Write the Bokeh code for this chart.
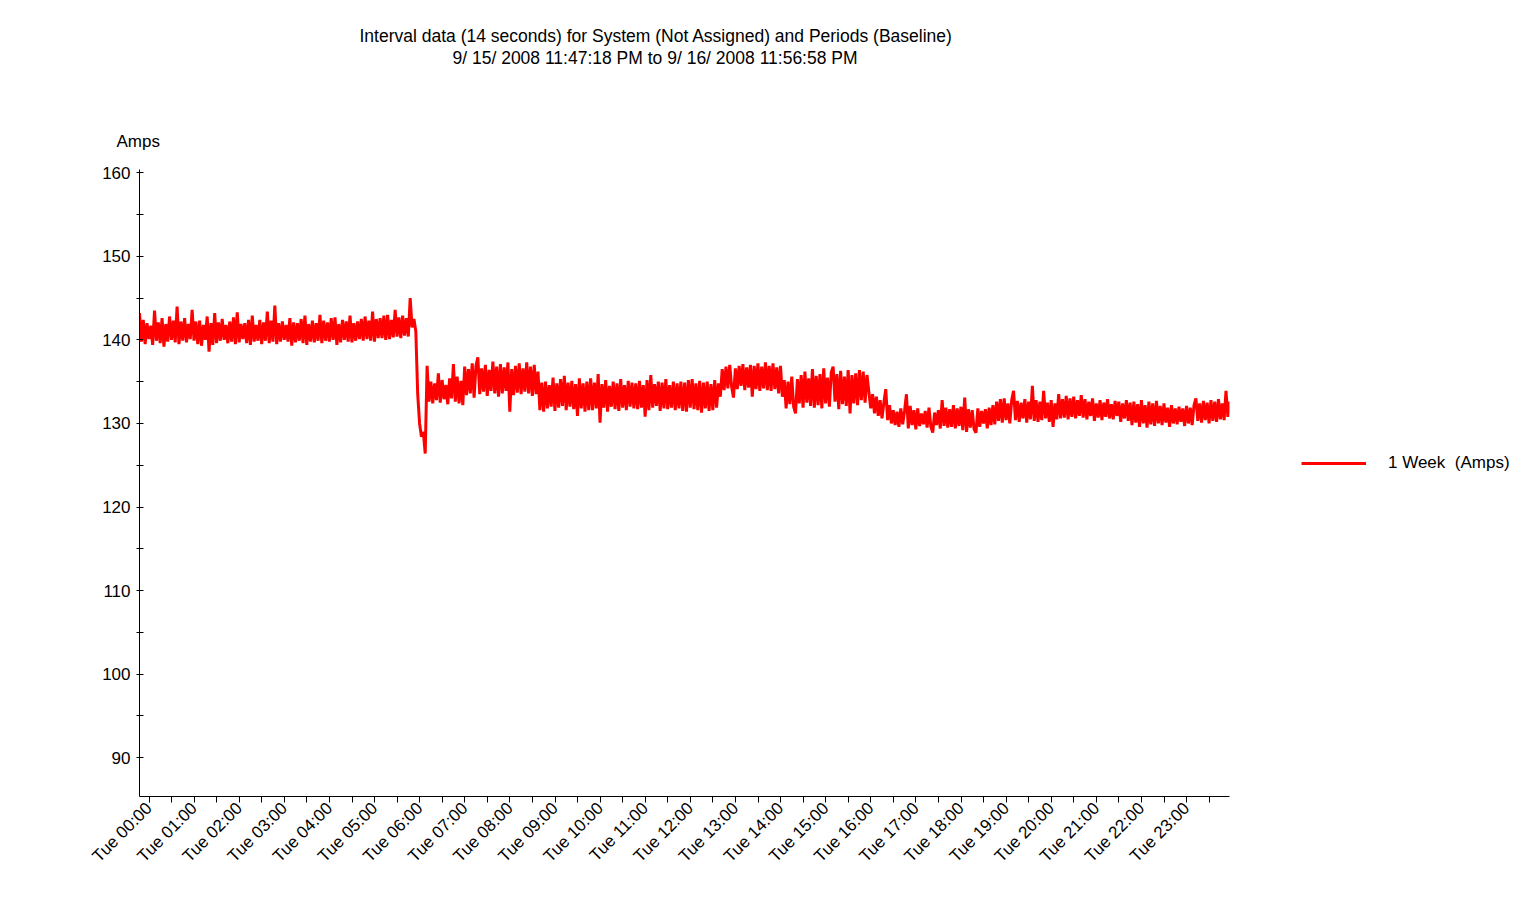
import math
import pandas as pd
from bokeh.plotting import figure
from bokeh.models import (ColumnDataSource, FixedTicker, DatetimeTickFormatter, Range1d,
                          Title, Legend, LegendItem, LinearAxis)
from bokeh.embed import file_html
from bokeh.resources import INLINE

# ---------------- data ----------------
title_line1 = "Interval data (14 seconds) for System (Not Assigned) and Periods (Baseline)"
title_line2 = "9/ 15/ 2008 11:47:18 PM to 9/ 16/ 2008 11:56:58 PM"
y_label = "Amps"
series_name = "1 Week  (Amps)"

range_start = "2008-09-15 23:47:18"
range_end = "2008-09-16 23:56:58"
sample_step = "150s"   # values every 2.5 minutes

amps = [
    # 23:47 -
    143.2, 139.8, 142.4, 139.5, 142.0, 140.1, 141.7, 139.4, 143.5, 139.9, 142.1, 139.6,
    142.6, 139.2, 141.9, 139.8, 142.8, 140.0, 142.3, 139.7, 144.0, 139.5, 142.2, 139.9,
    # 00:47 -
    142.6, 139.7, 141.9, 140.1, 143.6, 139.9, 142.2, 139.5, 142.3, 139.3, 141.8, 140.0,
    142.8, 138.6, 142.0, 139.4, 143.2, 139.6, 142.1, 139.9, 142.5, 140.0, 141.8, 139.6,
    # 01:47 -
    142.2, 139.8, 142.7, 139.5, 143.3, 139.7, 141.9, 140.1, 142.0, 139.6, 142.4, 139.4,
    142.9, 139.8, 141.8, 139.9, 142.4, 139.5, 142.1, 139.9, 143.4, 139.6, 142.3, 139.8,
    # 02:47 -
    144.1, 139.5, 142.0, 139.8, 142.2, 140.0, 141.8, 139.8, 142.6, 139.3, 142.1, 139.7,
    142.0, 139.9, 142.5, 139.6, 142.9, 139.4, 141.9, 139.8, 142.3, 139.7, 142.0, 139.9,
    # 03:47 -
    143.0, 139.6, 142.3, 139.9, 142.1, 139.8, 142.6, 140.0, 142.7, 139.4, 141.9, 139.7,
    142.4, 140.0, 142.2, 139.8, 142.9, 139.7, 142.0, 139.9, 142.2, 140.1, 142.5, 139.9,
    # 04:47 -
    142.8, 140.1, 142.3, 139.9, 143.4, 139.8, 142.5, 140.2, 142.6, 140.2, 142.9, 140.0,
    143.0, 140.1, 142.4, 140.3, 143.6, 140.4, 142.7, 140.2, 142.9, 140.5, 142.6, 140.4,
    # 05:47 -
    145.0, 141.5, 142.5, 141.0, 133.5, 130.0, 128.4, 129.0, 126.4, 136.9, 132.6, 135.0,
    132.4, 134.8, 132.8, 136.0, 132.5, 135.2, 132.9, 134.6, 132.3, 135.4, 133.0, 137.1,
    # 06:47 -
    132.6, 135.6, 132.4, 135.1, 132.2, 136.8, 133.4, 136.5, 133.6, 137.2, 133.1, 136.9,
    137.9, 133.5, 136.6, 133.8, 137.0, 133.3, 136.4, 133.9, 137.4, 133.6, 136.8, 133.2,
    # 07:47 -
    137.1, 133.6, 136.7, 133.9, 137.3, 131.4, 136.5, 133.4, 136.9, 133.7, 137.2, 133.5,
    136.6, 133.8, 137.3, 133.6, 136.8, 133.3, 137.0, 133.5, 136.2, 131.6, 134.9, 131.4,
    # 08:47 -
    135.0, 131.8, 134.6, 132.0, 135.5, 131.5, 134.8, 131.9, 135.3, 132.1, 135.7, 131.6,
    134.9, 132.0, 135.1, 131.7, 134.7, 130.9, 135.4, 131.8, 134.8, 131.4, 135.0, 131.6,
    # 09:47 -
    135.4, 131.6, 134.9, 131.8, 135.9, 130.1, 134.7, 131.9, 135.2, 131.4, 134.5, 132.0,
    135.0, 131.7, 134.8, 131.5, 135.3, 131.9, 134.6, 131.6, 135.1, 132.0, 134.9, 131.8,
    # 10:47 -
    134.8, 131.7, 135.1, 131.9, 134.6, 130.8, 135.2, 131.6, 135.8, 131.9, 134.7, 132.1,
    135.0, 131.5, 134.9, 131.8, 135.3, 131.7, 134.6, 131.9, 135.0, 131.6, 134.8, 131.8,
    # 11:47 -
    135.0, 131.5, 134.9, 131.4, 135.2, 131.9, 135.3, 131.7, 134.8, 131.6, 135.1, 131.3,
    134.9, 131.8, 135.0, 131.5, 134.7, 131.6, 135.2, 131.9, 134.8, 133.2, 136.5, 134.0,
    # 12:47 -
    136.8, 134.2, 137.0, 134.4, 133.1, 136.6, 134.1, 136.9, 134.5, 137.1, 134.0, 136.7,
    134.3, 137.0, 133.2, 136.9, 134.1, 137.2, 133.9, 136.8, 134.2, 137.3, 134.0, 136.9,
    # 13:47 -
    133.9, 137.2, 134.1, 136.7, 133.6, 136.9, 133.2, 135.2, 131.8, 135.0, 132.3, 135.6,
    132.0, 131.2, 135.3, 132.4, 135.8, 131.9, 136.2, 132.5, 135.4, 132.1, 136.5, 131.9,
    # 14:47 -
    135.7, 132.2, 135.9, 131.8, 136.6, 132.4, 135.5, 132.0, 136.1, 136.8, 132.6, 135.9,
    131.7, 136.3, 132.3, 135.6, 132.1, 136.4, 131.2, 135.8, 132.4, 136.0, 132.2, 136.4,
    # 15:47 -
    132.8, 136.2, 132.5, 135.8, 133.8, 131.8, 133.5, 131.2, 133.2, 130.9, 132.8, 130.6,
    132.5, 134.1, 130.4, 132.2, 130.0, 131.6, 129.8, 131.4, 129.6, 131.8, 129.9, 131.5,
    # 16:47 -
    133.5, 129.4, 132.1, 129.8, 131.6, 129.3, 131.8, 129.7, 131.2, 129.9, 131.5, 129.5,
    131.9, 129.6, 128.9, 131.3, 129.8, 131.6, 129.4, 132.8, 129.7, 131.9, 129.5, 131.7,
    # 17:47 -
    129.6, 132.2, 129.4, 131.8, 129.7, 132.0, 129.2, 133.1, 129.0, 131.7, 129.5, 131.6,
    129.3, 128.9, 131.8, 129.6, 131.5, 130.0, 131.7, 129.4, 131.9, 129.8, 132.2, 129.9,
    # 18:47 -
    132.6, 130.3, 132.9, 130.1, 133.0, 130.4, 132.4, 130.0, 132.8, 133.9, 130.4, 132.7,
    130.2, 132.5, 130.6, 132.9, 130.1, 132.6, 130.5, 134.5, 130.3, 132.8, 130.2, 132.6,
    # 19:47 -
    130.4, 133.9, 130.6, 132.5, 130.2, 132.8, 129.6, 132.4, 130.5, 133.5, 130.6, 132.9,
    130.7, 133.3, 130.5, 133.0, 130.8, 133.2, 130.6, 132.8, 130.9, 133.4, 130.7, 132.9,
    # 20:47 -
    130.5, 132.6, 130.9, 133.0, 130.3, 132.4, 130.7, 132.8, 130.4, 132.5, 130.8, 132.9,
    130.6, 132.3, 130.5, 132.7, 130.9, 132.6, 130.2, 132.4, 130.6, 132.8, 130.3, 132.5,
    # 21:47 -
    129.8, 132.6, 130.1, 132.3, 129.6, 132.8, 130.0, 132.2, 129.5, 132.6, 129.9, 132.4,
    129.7, 132.7, 130.0, 132.1, 129.8, 132.4, 130.1, 131.9, 129.6, 132.2, 130.0, 131.8,
    # 22:47 -
    129.9, 132.0, 130.2, 131.8, 129.7, 132.1, 130.0, 131.9, 129.8, 132.2, 133.0, 130.3,
    132.4, 130.1, 132.7, 130.4, 132.5, 130.0, 132.8, 130.3, 132.6, 130.2, 132.9, 130.5,
    # 23:47 -
    132.4, 130.4, 133.9, 130.8, 132.6,
]

y_major_ticks = [90, 100, 110, 120, 130, 140, 150, 160]
y_minor_ticks = [95, 105, 115, 125, 135, 145, 155]
hour_tick_times = pd.date_range("2008-09-16 00:00", "2008-09-16 23:00", freq="1h")
half_hour_tick_times = pd.date_range("2008-09-16 00:30", "2008-09-16 23:30", freq="1h")

# ---------------- figure ----------------
FONT = "Liberation Sans"
times = pd.date_range(range_start, periods=len(amps), freq=sample_step)
src = ColumnDataSource(data=dict(t=times, amps=amps))

p = figure(frame_width=1090, frame_height=627, x_axis_type="datetime",
           x_range=Range1d(pd.Timestamp(range_start), pd.Timestamp(range_end)),
           y_range=Range1d(85.36, 160.39),
           output_backend="svg", toolbar_location=None,
           min_border_left=139, min_border_right=300, min_border_top=169, min_border_bottom=119)
p.outline_line_color = None
p.grid.visible = False
p.background_fill_color = "white"
p.border_fill_color = "white"

r = p.line(x="t", y="amps", source=src, line_color="#ff0000", line_width=3)

def to_ms(idx):
    return [int(v) // 10**6 for v in idx.asi8]

hour_ms = to_ms(hour_tick_times)

xa = p.xaxis[0]
xa.ticker = FixedTicker(ticks=hour_ms, minor_ticks=to_ms(half_hour_tick_times))
fmt = "%a %H:%M"
xa.formatter = DatetimeTickFormatter(microseconds=fmt, milliseconds=fmt, seconds=fmt, minsec=fmt,
                                     minutes=fmt, hourmin=fmt, hours=fmt, days=fmt, months=fmt,
                                     years=fmt)
xa.major_label_orientation = math.pi / 4
xa.major_tick_in = 0
xa.major_tick_out = 6
xa.minor_tick_in = 0
xa.minor_tick_out = 6
xa.major_label_standoff = 3

ya = p.yaxis[0]
ya.ticker = FixedTicker(ticks=y_major_ticks, minor_ticks=y_minor_ticks)
ya.major_tick_in = 4
ya.major_tick_out = 3
ya.minor_tick_in = 4
ya.minor_tick_out = 3
ya.major_label_standoff = 6

for ax in (xa, ya):
    ax.axis_line_color = "#000000"
    ax.major_tick_line_color = "#000000"
    ax.minor_tick_line_color = "#000000"
    ax.major_label_text_font = FONT
    ax.major_label_text_font_size = "17px"
    ax.major_label_text_color = "#000000"

tcommon = dict(text_font=FONT, text_font_style="normal", text_color="#000000")
# stacked nearest-first above the frame: "Amps", invisible spacer, subtitle, main title
p.add_layout(Title(text=y_label, align="left", offset=-23, standoff=38,
                   text_font_size="17px", **tcommon), "above")
spacer = LinearAxis(ticker=FixedTicker(ticks=hour_ms[:1]), axis_line_color=None,
                    major_tick_line_color=None, minor_tick_line_color=None,
                    major_tick_in=0, major_tick_out=43, minor_tick_in=0, minor_tick_out=0,
                    major_label_standoff=0, major_label_text_font_size="0px",
                    major_label_text_color=None)
p.add_layout(spacer, "above")
p.add_layout(Title(text=title_line2, align="left", offset=313, standoff=0,
                   text_font_size="17.5px", **tcommon), "above")
p.add_layout(Title(text=title_line1, align="left", offset=220, standoff=0,
                   text_font_size="17.5px", **tcommon), "above")

legend = Legend(items=[LegendItem(label=series_name, renderers=[r])],
                location=(72, 323), glyph_width=65, glyph_height=20, label_height=20,
                label_standoff=22, padding=0, margin=0, spacing=0,
                border_line_color=None, background_fill_alpha=0,
                label_text_font=FONT, label_text_font_size="17px", label_text_color="#000000")
p.add_layout(legend, "right")

open("out.html", "w").write(file_html(p, INLINE))
